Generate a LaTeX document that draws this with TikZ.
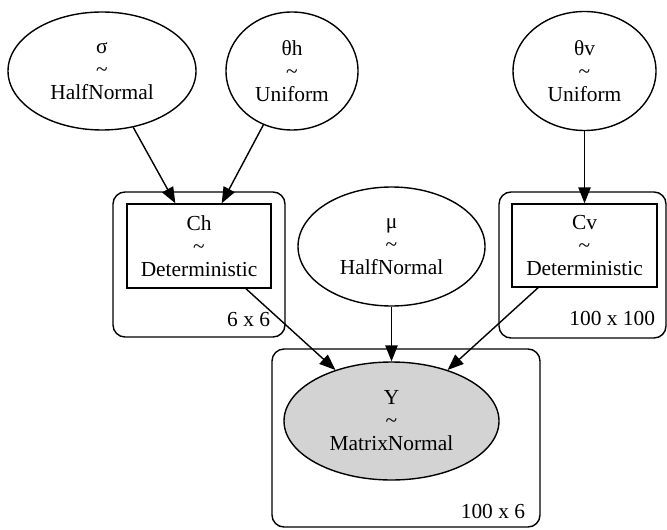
\documentclass[tikz,border=0pt]{standalone}
\usepackage{fontspec}
\setmainfont{Liberation Serif}
\usetikzlibrary{arrows.meta, shapes.geometric}
\definecolor{observedgray}{RGB}{211,211,211}

\begin{document}
\begin{tikzpicture}[x=0.5pt, y=-0.5pt, line width=0.7pt,
    every node/.style={font=\fontsize{10.7pt}{11.5pt}\selectfont, align=center, inner sep=0pt},
    rvnode/.style={draw, ellipse},
    detbox/.style={draw, rectangle},
    plate/.style={draw, rectangle, rounded corners=6pt},
    edge/.style={-{Triangle[length=8pt, width=6.2pt]}}]
	\useasboundingbox (0,0) rectangle (667,529);
	% plates
	\node[plate, minimum width=86pt, minimum height=72.5pt] (plateCh) at (199,264.5) {};
	\node[plate, minimum width=83.5pt, minimum height=73pt] (plateCv) at (582.5,265) {};
	\node[plate, minimum width=134pt, minimum height=89pt] (plateY) at (406,438) {};
	\node[anchor=east] (sizeCh) at ([xshift=-7.5pt, yshift=9pt]plateCh.south east) {6 x 6};
	\node[anchor=east] (sizeCv) at ([xshift=-5.5pt, yshift=10pt]plateCv.south east) {100 x 100};
	\node[anchor=east] (sizeY) at ([xshift=-7.5pt, yshift=8pt]plateY.south east) {100 x 6};
	% random variables
	\node[rvnode, minimum width=94pt, minimum height=59pt] (sigma) at (102,71) {σ\\\textasciitilde\\HalfNormal};
	\node[rvnode, minimum width=66pt, minimum height=59pt] (thetah) at (292,71) {θh\\\textasciitilde\\Uniform};
	\node[rvnode, minimum width=71.5pt, minimum height=59.5pt] (thetav) at (584.5,71) {θv\\\textasciitilde\\Uniform};
	\node[rvnode, minimum width=93.5pt, minimum height=59.5pt] (mu) at (391.5,246.5) {μ\\\textasciitilde\\HalfNormal};
	\node[rvnode, fill=observedgray, minimum width=107.5pt, minimum height=59pt] (Y) at (391.5,421) {Y\\\textasciitilde\\MatrixNormal};
	\node[detbox, minimum width=72pt, minimum height=42pt] (Ch) at (199,246) {Ch\\\textasciitilde\\Deterministic};
	\node[detbox, minimum width=72.5pt, minimum height=41.5pt] (Cv) at (584.5,245.5) {Cv\\\textasciitilde\\Deterministic};
	% edges
	\draw[edge] (sigma) -- (Ch);
	\draw[edge] (thetah) -- (Ch);
	\draw[edge] (thetav) -- (Cv);
	\draw[edge] (Ch) -- (Y);
	\draw[edge] (mu) -- (Y);
	\draw[edge] (Cv) -- (Y);
\end{tikzpicture}
\end{document}
